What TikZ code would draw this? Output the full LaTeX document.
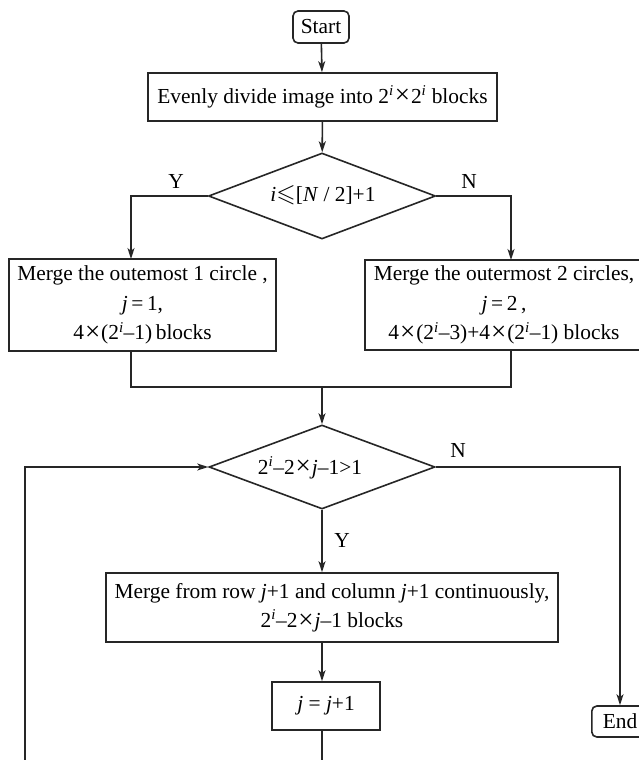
\documentclass[tikz,border=0pt]{standalone}
\usepackage{amssymb}
\usepackage{fontspec}
\setmainfont{Liberation Serif}
\usetikzlibrary{arrows.meta,shapes.geometric}
\tikzset{
  line/.style={draw=black!85, line width=1.6pt},
  arr/.style={line, -{Stealth[length=11pt,width=7pt,inset=3pt]}},
  boxnode/.style={line, rectangle, inner sep=0pt, align=center},
  termnode/.style={line, rectangle, rounded corners=5pt, inner sep=0pt},
  decnode/.style={line, diamond, inner sep=0pt},
  lbl/.style={inner sep=0pt}
}
\newcommand{\vi}{\textit{i}}
\newcommand{\vj}{\textit{j}}
\newcommand{\pw}{2\textsuperscript{\textit{i}}}
\newcommand{\tms}{\hspace{1pt}{\fontsize{27}{29}\selectfont\raisebox{-0.5pt}{×}}\hspace{1pt}}
\newcommand{\mns}{–}
\begin{document}
\begin{tikzpicture}[x=1pt,y=-1pt,font=\fontsize{21.4}{29.5}\selectfont]
\useasboundingbox (0,0) rectangle (638,760);
\fill[white] (0,0) rectangle (638,760);
\node[termnode, minimum width=56pt, minimum height=32pt] (start) at (321,27) {Start};
\node[boxnode, minimum width=349pt, minimum height=48pt] (b1) at (322.5,97) {Evenly divide image into \pw\tms\pw\ blocks};
\node[decnode, minimum width=227pt, minimum height=86pt] (d1) at (322,196) {};
\node[lbl] at (323,195) {\vi{\fontsize{25}{29}\selectfont$\leqslant$}[\textit{N} / 2]+1};
\node[boxnode, minimum width=267pt, minimum height=92pt] (b2) at (142.5,305) {Merge the outemost 1 circle ,\\ \vj\,=\,1,\\ 4\tms(\pw\mns1)\,blocks};
\node[boxnode, minimum width=278pt, minimum height=90pt] (b3) at (504,305) {Merge the outermost 2 circles,\\ \vj\,=\,2\,,\\ 4\tms(\pw\mns3)+4\tms(\pw\mns1) blocks};
\node[decnode, minimum width=226pt, minimum height=84pt] (d2) at (322,467) {};
\node[lbl] at (310,468) {\pw\mns2\tms\vj\mns1>1};
\node[boxnode, minimum width=452pt, minimum height=69pt] (b4) at (332,607.5) {Merge from row \vj+1 and column \vj+1 continuously,\\ \pw\mns2\tms\vj\mns1 blocks};
\node[boxnode, minimum width=108pt, minimum height=48pt] (b5) at (326,706) {\vj\ = \vj+1};
\node[termnode, minimum width=70pt, minimum height=31pt, anchor=west, text width=66pt, align=left] (end) at (591,721.5) {\hspace{9pt}End};
\node[lbl] (ly1) at (176,181) {Y};
\node[lbl] (ln1) at (469,181) {N};
\node[lbl] (ln2) at (458,450) {N};
\node[lbl] (ly2) at (342,540) {Y};
\coordinate (m) at (322,387);
\coordinate (bot1) at (322,765);
\coordinate (bot2) at (25,765);
\coordinate (rx) at (620,0);
\draw[arr] (start) -- (b1);
\draw[arr] (b1) -- (d1);
\draw[arr] (d1.west) -| (131,259);
\draw[arr] (d1.east) -| (511,260);
\draw[line] (131,351) |- (m) -| (511,350);
\draw[arr] (m) -- (d2);
\draw[arr] (d2.east) -| (end.north -| rx);
\draw[arr] (d2) -- (b4.north -| d2.south);
\draw[arr] (b4.south -| d2.south) -- (b5.north -| d2.south);
\draw[line] (b5.south -| bot1) -- (bot1);
\draw[arr] (bot2) |- (d2.west);
\end{tikzpicture}
\end{document}
